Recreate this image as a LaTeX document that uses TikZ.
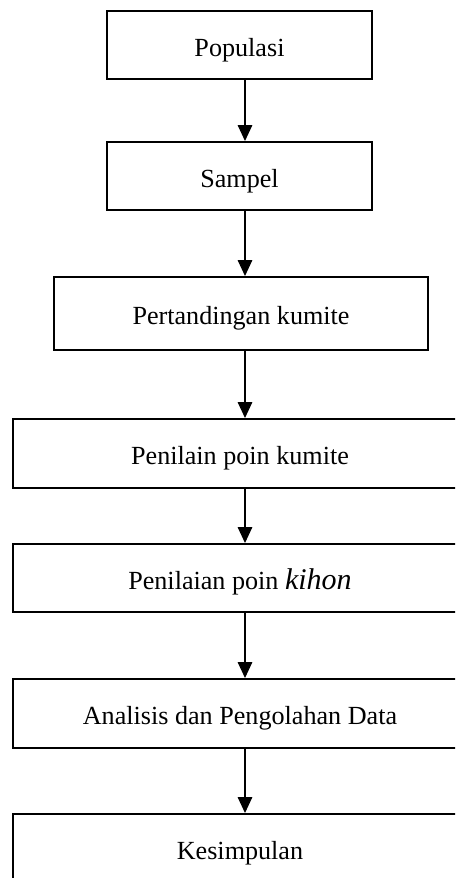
\documentclass[tikz,border=0pt]{standalone}
\usepackage{fontspec}
\setmainfont{Liberation Serif}
\usetikzlibrary{arrows.meta}
\begin{document}
\begin{tikzpicture}[x=0.75pt,y=-0.75pt,
  box/.style={draw=black,line width=1.5pt,rectangle,inner sep=0pt,anchor=center,
    text height=17pt,text depth=0pt,
    font=\fontsize{19.6pt}{22pt}\selectfont},
  arr/.style={draw=black,line width=0.8pt,-{Triangle[length=12pt,width=11pt]}}]
\path[use as bounding box,clip] (0,0) rectangle (455,878);
\node[box,minimum width=198.75pt,minimum height=51pt] (pop) at (239.5,45) {Populasi};
\node[box,minimum width=198.75pt,minimum height=51pt] (samp) at (239.5,176) {Sampel};
\node[box,minimum width=280.5pt,minimum height=54.75pt] (pert) at (241,313.5) {Pertandingan kumite};
\node[box,minimum width=340.5pt,minimum height=51.75pt] (pen) at (240,453.5) {Penilain poin kumite};
\node[box,minimum width=340.5pt,minimum height=51pt] (kih) at (240,578) {Penilaian poin {\fontsize{22.5pt}{24pt}\selectfont\itshape kihon}};
\node[box,minimum width=340.5pt,minimum height=51.75pt] (ana) at (240,713.5) {Analisis dan Pengolahan Data};
\node[box,minimum width=340.5pt,minimum height=51.75pt] (kes) at (240,848.5) {Kesimpulan};
\coordinate (ax) at (245,0);
\draw[arr] (pop.south -| ax) -- (samp.north -| ax);
\draw[arr] (samp.south -| ax) -- (pert.north -| ax);
\draw[arr] (pert.south -| ax) -- (pen.north -| ax);
\draw[arr] (pen.south -| ax) -- (kih.north -| ax);
\draw[arr] (kih.south -| ax) -- (ana.north -| ax);
\draw[arr] (ana.south -| ax) -- (kes.north -| ax);
\end{tikzpicture}
\end{document}
